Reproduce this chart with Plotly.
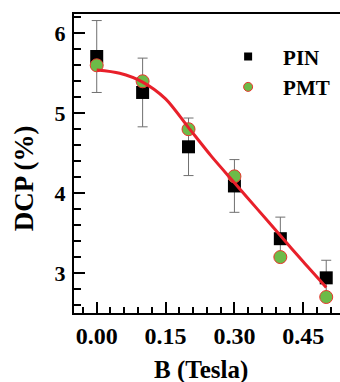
import plotly.graph_objects as go

# Data
b_field = [0.0, 0.1, 0.2, 0.3, 0.4, 0.5]
pin_dcp = [5.71, 5.26, 4.58, 4.09, 3.43, 2.94]
pin_err = [0.45, 0.43, 0.36, 0.33, 0.27, 0.22]
pmt_dcp = [5.60, 5.40, 4.80, 4.21, 3.20, 2.70]

fit_b = [0.0, 0.05, 0.10, 0.15, 0.20, 0.25, 0.30, 0.35, 0.40, 0.45, 0.50]
fit_dcp = [5.54, 5.50, 5.39, 5.18, 4.82, 4.46, 4.13, 3.80, 3.47, 3.14, 2.82]

x_ticks = [0.0, 0.15, 0.30, 0.45]
x_ticklabels = ["0.00", "0.15", "0.30", "0.45"]
y_ticks = [3, 4, 5, 6]

FONT = "Liberation Serif"
GREEN = "#6cbb48"
EDGE = "#e8352c"

fig = go.Figure()
fig.add_trace(go.Scatter(
    x=b_field, y=pin_dcp, mode="markers", name="PIN", showlegend=False,
    marker=dict(symbol="square", size=13, color="black"),
    error_y=dict(type="data", array=pin_err, color="#707070", thickness=1, width=5),
))
fig.add_trace(go.Scatter(
    x=b_field, y=pmt_dcp, mode="markers", name="PMT", showlegend=False,
    marker=dict(symbol="circle", size=13, color=GREEN, line=dict(color=EDGE, width=1)),
))
fig.add_trace(go.Scatter(
    x=fit_b, y=fit_dcp, mode="lines", showlegend=False,
    line=dict(color="#e8202a", width=3, shape="spline", smoothing=0.8),
))
# legend entries (smaller symbols as in the reference)
fig.add_trace(go.Scatter(
    x=[None], y=[None], mode="markers", name="PIN",
    marker=dict(symbol="square", size=8, color="black"),
))
fig.add_trace(go.Scatter(
    x=[None], y=[None], mode="markers", name="PMT",
    marker=dict(symbol="circle", size=9, color=GREEN, line=dict(color=EDGE, width=1)),
))

fig.update_layout(
    width=340, height=382,
    margin=dict(l=74, r=0, t=14, b=69),
    paper_bgcolor="white", plot_bgcolor="white",
    font=dict(family=FONT, color="black"),
    showlegend=True,
    legend=dict(x=0.523, y=0.925, xanchor="left", yanchor="top",
                bgcolor="rgba(0,0,0,0)", borderwidth=0,
                font=dict(family=FONT, size=21, weight="bold"),
                itemsizing="trace", itemwidth=60, tracegroupgap=0),
    xaxis=dict(
        range=[-0.0495, 0.530], tickmode="array", tickvals=x_ticks, ticktext=x_ticklabels,
        ticks="inside", ticklen=11, tickwidth=2, tickcolor="black",
        showline=True, linecolor="black", linewidth=2, mirror=True,
        showgrid=False, zeroline=False,
        tickfont=dict(family=FONT, size=24, weight="bold"),
        minor=dict(dtick=0.03, tick0=0, ticks="inside", ticklen=6, tickwidth=1.5, tickcolor="black", showgrid=False),
    ),
    yaxis=dict(
        range=[2.5, 6.242], tickmode="array", tickvals=y_ticks,
        ticks="inside", ticklen=11, tickwidth=2, tickcolor="black",
        showline=True, linecolor="black", linewidth=2, mirror=False,
        showgrid=False, zeroline=False, ticklabelstandoff=2,
        tickfont=dict(family=FONT, size=22, weight="bold"),
        minor=dict(dtick=0.2, tick0=0, ticks="inside", ticklen=7, tickwidth=1.5, tickcolor="black", showgrid=False),
    ),
    annotations=[
        dict(text="B (Tesla)", xref="paper", yref="paper", x=(201 - 74) / 266, y=-(370 - 312.7) / 298.7,
             xanchor="center", yanchor="middle", showarrow=False,
             font=dict(family=FONT, size=25, weight="bold")),
        dict(text="DCP (%)", xref="paper", yref="paper", x=-(74 - 24) / 266, y=1 - (178 - 14) / 298.7,
             xanchor="center", yanchor="middle", showarrow=False, textangle=-90,
             font=dict(family=FONT, size=27, weight="bold")),
    ],
)

fig.write_html("out.html")
